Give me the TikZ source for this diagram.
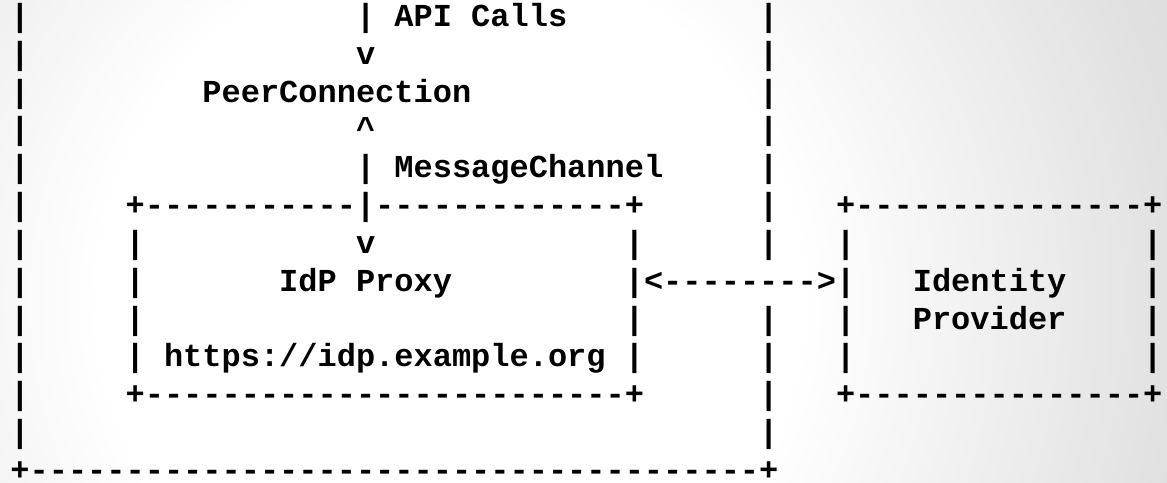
\documentclass[tikz,border=0pt]{standalone}
\usepackage{fontspec}
\newfontfamily\asciifont{Liberation Mono}
\usetikzlibrary{positioning}
\pgfdeclareradialshading{vignette}{\pgfpoint{0bp}{0bp}}{color(0bp)=(white); color(11bp)=(white); color(23bp)=(black!12); color(25bp)=(black!13); color(50bp)=(black!13)}
\tikzstyle{ascii} = [font=\asciifont\bfseries\fontsize{16}{19}\selectfont, inner sep=0pt, outer sep=0pt, anchor=base west, yshift=-3.9pt]

\begin{document}
\begin{tikzpicture}[x=9.6pt, y=-18.915pt]
		% one unit = one character cell, rows counted downwards
		\path[use as bounding box] (-5.2pt,9.35pt) rectangle ++(583.5pt,-241pt);
		\begin{scope}
			\clip (-5.2pt,9.35pt) rectangle ++(583.5pt,-241pt);
			\shade[shading=vignette] (-180.2pt,259.35pt) rectangle (619.8pt,-540.65pt);
		\end{scope}
		
		\node (api-bar) [ascii] at (18,0) {|};
		\node (api-calls) [ascii] at (20,0) {API Calls};
		\node (api-arrow) [ascii] at (18,1) {v};
		\node (peer-connection) [ascii] at (10,2) {PeerConnection};
		\node (channel-arrow) [ascii] at (18,3) {\textasciicircum};
		\node (channel-bar) [ascii] at (18,4) {|};
		\node (message-channel) [ascii] at (20,4) {MessageChannel};
		\node (proxy-top) [ascii] at (6,5) {+-----------|-------------+};
		\node (idp-top) [ascii] at (43,5) {+---------------+};
		\node (proxy-arrow) [ascii] at (18,6) {v};
		\node (idp-proxy) [ascii] at (14,7) {IdP Proxy};
		\node (proxy-link) [ascii] at (32,7) {|<-------->|};
		\node (identity) [ascii] at (47,7) {Identity};
		\node (provider) [ascii] at (47,8) {Provider};
		\node (proxy-origin) [ascii] at (8,9) {https://idp.example.org};
		\node (proxy-bottom) [ascii] at (6,10) {+-------------------------+};
		\node (idp-bottom) [ascii] at (43,10) {+---------------+};
		\node (page-bottom) [ascii] at (0,12) {+--------------------------------------+};
		
		% side walls
		\foreach \r in {0,...,11} \node (page-left-\r) [ascii] at (0,\r) {|};
		\foreach \r in {0,...,6,8,9,10,11} \node (page-right-\r) [ascii] at (39,\r) {|};
		\foreach \r in {6,7,8,9} \node (proxy-left-\r) [ascii] at (6,\r) {|};
		\foreach \r in {6,8,9} \node (proxy-right-\r) [ascii] at (32,\r) {|};
		\foreach \r in {6,8,9} \node (idp-left-\r) [ascii] at (43,\r) {|};
		\foreach \r in {6,7,8,9} \node (idp-right-\r) [ascii] at (59,\r) {|};
		
	\end{tikzpicture}
\end{document}
